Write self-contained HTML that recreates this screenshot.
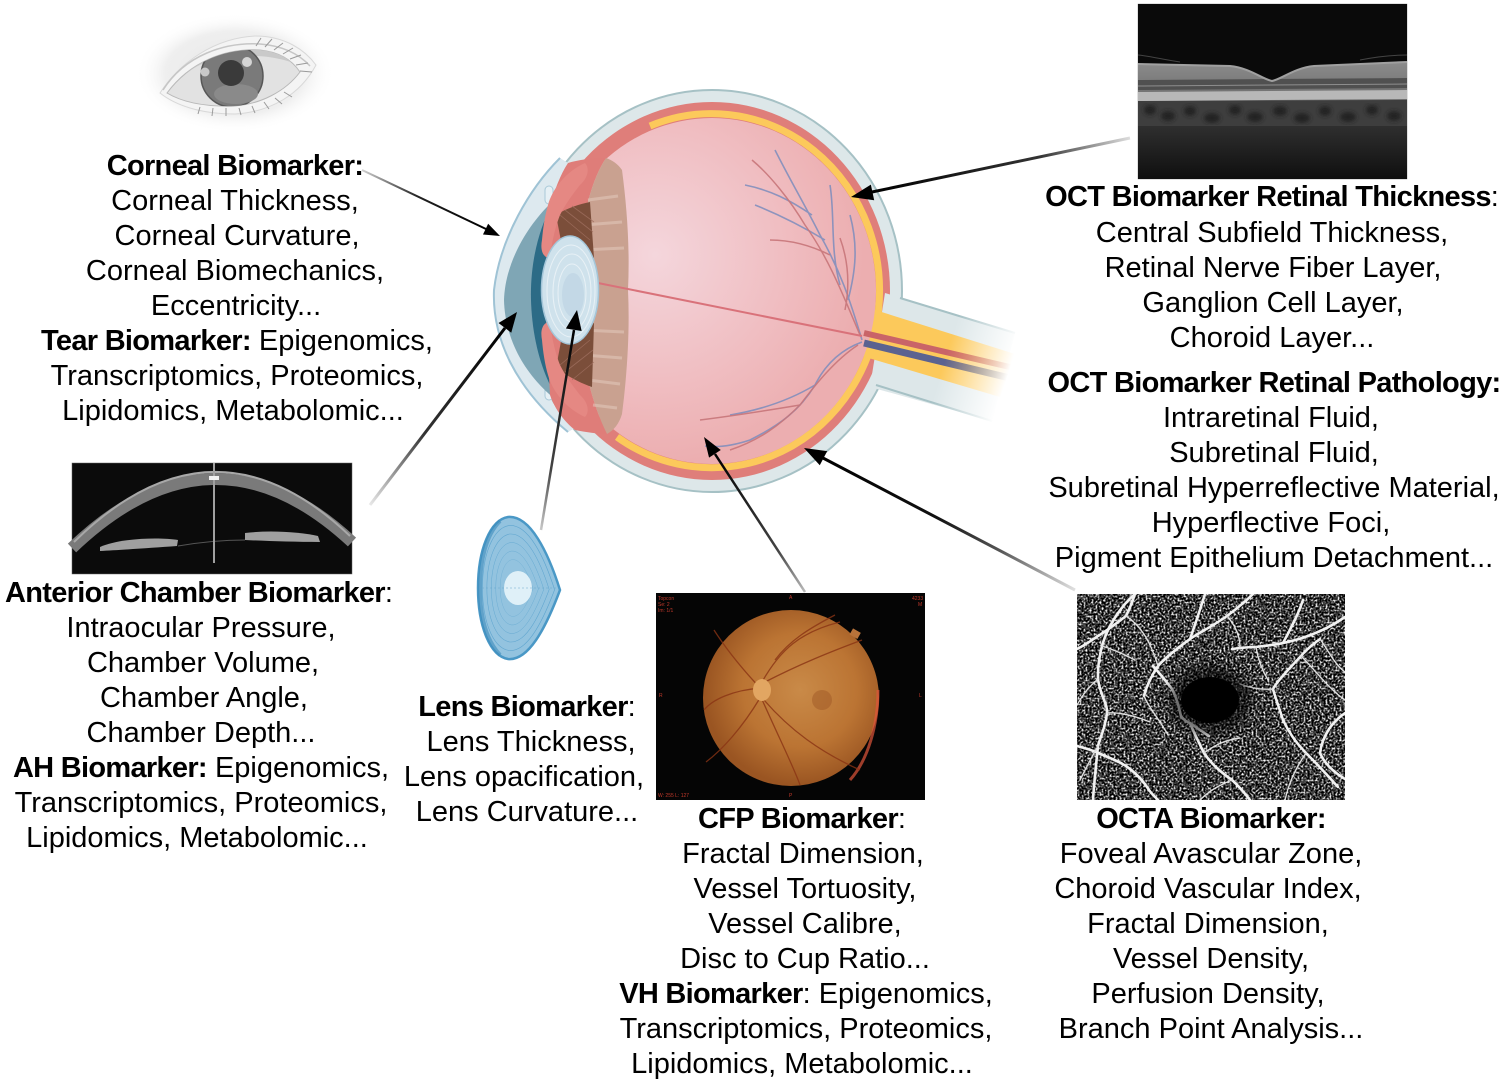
<!DOCTYPE html>
<html><head><meta charset="utf-8">
<style>
html,body{margin:0;padding:0;background:#fff;width:1505px;height:1083px;overflow:hidden}
svg{display:block}
text{font-family:"Liberation Sans",Arial,sans-serif;font-size:29px;fill:#000}
.b{font-weight:bold;letter-spacing:-0.7px}
.t{font-size:5px;fill:#c0392b}
</style></head>
<body>
<svg width="1505" height="1083" viewBox="0 0 1505 1083" xmlns="http://www.w3.org/2000/svg">
<defs>
  <radialGradient id="vit" cx="655" cy="255" r="210" gradientUnits="userSpaceOnUse">
    <stop offset="0" stop-color="#f4d6dc"/><stop offset="0.6" stop-color="#f0bec2"/><stop offset="1" stop-color="#ecaeb0"/>
  </radialGradient>
  <radialGradient id="glow" cx="0.5" cy="0.5" r="0.5">
    <stop offset="0" stop-color="#e6e6e6"/><stop offset="0.7" stop-color="#efefef"/><stop offset="1" stop-color="#ffffff" stop-opacity="0"/>
  </radialGradient>
  <radialGradient id="fund" cx="800" cy="690" r="95" gradientUnits="userSpaceOnUse">
    <stop offset="0" stop-color="#c98a48"/><stop offset="0.6" stop-color="#bb7433"/><stop offset="1" stop-color="#9a5522"/>
  </radialGradient>
  <linearGradient id="octbot" x1="0" y1="0" x2="0" y2="1">
    <stop offset="0" stop-color="#303030"/><stop offset="1" stop-color="#0f0f0f"/>
  </linearGradient>
  <linearGradient id="retg" x1="0" y1="0" x2="0" y2="1">
    <stop offset="0" stop-color="#8c8c8c"/><stop offset="1" stop-color="#6c6c6c"/>
  </linearGradient>
  <linearGradient id="nf" x1="950" y1="343" x2="1012" y2="362" gradientUnits="userSpaceOnUse">
    <stop offset="0" stop-color="#fff"/><stop offset="1" stop-color="#000"/>
  </linearGradient>
  <mask id="nm"><rect x="0" y="0" width="1505" height="1083" fill="url(#nf)"/></mask>
  <clipPath id="eyeopen"><path d="M167 93 C190 62 225 48 260 50 C280 52 292 60 300 72 C285 92 260 104 235 106 C205 107 182 102 167 93 Z"/></clipPath>
  <clipPath id="octaclip"><rect x="1077" y="594" width="268" height="206"/></clipPath>
  <clipPath id="octclip"><rect x="1138" y="4" width="269" height="175"/></clipPath>
  <filter id="noise" x="0" y="0" width="100%" height="100%" color-interpolation-filters="sRGB">
    <feTurbulence type="fractalNoise" baseFrequency="0.5" numOctaves="2" seed="4"/>
    <feColorMatrix type="matrix" values="3 0 0 0 -1.28  3 0 0 0 -1.28  3 0 0 0 -1.28  0 0 0 0 1"/>
  </filter>
  <filter id="blur4"><feGaussianBlur stdDeviation="5"/></filter>
  <filter id="blur2"><feGaussianBlur stdDeviation="2"/></filter>
  <linearGradient id="g1" x1="362" y1="170" x2="486" y2="229" gradientUnits="userSpaceOnUse"><stop offset="0" stop-color="#d0d0d0"/><stop offset="0.45" stop-color="#222"/><stop offset="1" stop-color="#000"/></linearGradient>
  <linearGradient id="g2" x1="370" y1="505" x2="505" y2="328" gradientUnits="userSpaceOnUse"><stop offset="0" stop-color="#e8e8e8"/><stop offset="0.4" stop-color="#333"/><stop offset="1" stop-color="#000"/></linearGradient>
  <linearGradient id="g3" x1="541" y1="530" x2="574" y2="330" gradientUnits="userSpaceOnUse"><stop offset="0" stop-color="#c8c8c8"/><stop offset="0.3" stop-color="#444"/><stop offset="1" stop-color="#000"/></linearGradient>
  <linearGradient id="g4" x1="1130" y1="138" x2="872" y2="192" gradientUnits="userSpaceOnUse"><stop offset="0" stop-color="#dddddd"/><stop offset="0.35" stop-color="#333"/><stop offset="1" stop-color="#000"/></linearGradient>
  <linearGradient id="g5" x1="805" y1="592" x2="715" y2="454" gradientUnits="userSpaceOnUse"><stop offset="0" stop-color="#bbbbbb"/><stop offset="0.3" stop-color="#444"/><stop offset="1" stop-color="#000"/></linearGradient>
  <linearGradient id="g6" x1="1075" y1="590" x2="823" y2="458" gradientUnits="userSpaceOnUse"><stop offset="0" stop-color="#e0e0e0"/><stop offset="0.3" stop-color="#555"/><stop offset="0.55" stop-color="#111"/><stop offset="1" stop-color="#000"/></linearGradient>
</defs>

<!-- ============ TOP-LEFT EYE ILLUSTRATION ============ -->
<ellipse cx="235" cy="73" rx="100" ry="60" fill="url(#glow)"/>
<path d="M160 93 C180 62 215 38 255 36 C285 36 305 50 316 65 C300 95 270 112 235 114 C200 114 175 105 160 93 Z" fill="#f4f4f4" stroke="#d8d8d8" stroke-width="1"/>
<path d="M163 90 C185 55 225 42 260 44 C285 46 300 55 310 66" fill="none" stroke="#c6c6c6" stroke-width="1.5"/>
<path d="M167 93 C190 62 225 48 260 50 C280 52 292 60 300 72 C285 92 260 104 235 106 C205 107 182 102 167 93 Z" fill="#e2e2e2" stroke="#b8b8b8" stroke-width="1"/>
<g clip-path="url(#eyeopen)">
  <path d="M167 93 C190 62 225 48 260 50 C280 52 292 60 300 72 L300 66 C285 58 260 54 230 56 C200 60 180 75 167 93 Z" fill="#c9c9c9"/>
  <circle cx="232" cy="76" r="31" fill="#7a7a7a" stroke="#575757" stroke-width="1.5"/>
  <ellipse cx="236" cy="94" rx="22" ry="10" fill="#8a8a8a"/>
  <circle cx="231" cy="73" r="13" fill="#3a3a3a"/>
  <circle cx="247" cy="62" r="5" fill="#d5d5d5"/>
  <circle cx="205" cy="72" r="4.5" fill="#c8c8c8"/>
</g>
<g stroke="#9a9a9a" stroke-width="1" fill="none">
  <path d="M265 47 L272 39 M274 50 L283 43 M283 54 L293 48 M290 59 L301 55 M296 65 L308 63 M300 71 L312 72 M256 46 L261 38"/>
  <path d="M200 107 L198 114 M213 108 L212 116 M226 108 L226 116 M239 108 L241 115 M252 106 L255 113 M264 102 L269 109 M275 98 L282 104 M284 92 L292 97"/>
</g>

<!-- ============ MAIN EYE CROSS-SECTION ============ -->
<ellipse cx="712" cy="291" rx="190" ry="201" fill="#dde7e9" stroke="#a6c1c5" stroke-width="2"/>
<ellipse cx="712" cy="291" rx="178" ry="189" fill="#df7e7a"/>
<g mask="url(#nm)">
  <path d="M885 293 L1015 333 L992 421 L870 387 Z" fill="#dde7e9"/>
  <path d="M900 298 L1015 333 M876 385 L992 421" stroke="#a6c1c5" stroke-width="2" fill="none"/>
  <path d="M872 309 L1015 354 L1000 397 L862 356 Z" fill="#fcc95b"/>
</g>
<ellipse cx="712" cy="291" rx="164" ry="173" fill="url(#vit)"/>
<path d="M650 126 A168 177 0 1 1 617 437" fill="none" stroke="#fcc95b" stroke-width="7"/>
<g mask="url(#nm)">
  <path d="M864 333 L1014 368" stroke="#c96468" stroke-width="6"/>
  <path d="M864 343 L1014 379" stroke="#5b6290" stroke-width="7"/>
</g>
<!-- retinal vessels -->
<g fill="none" stroke="#7d8dbd" stroke-width="1.6" opacity="0.85">
  <path d="M862 340 C850 300 840 270 820 235 C805 205 790 180 775 150"/>
  <path d="M840 285 C830 250 835 215 830 185"/>
  <path d="M825 240 C800 225 780 215 755 205"/>
  <path d="M812 215 C790 200 770 190 745 185"/>
  <path d="M848 300 C856 270 858 245 850 215"/>
  <path d="M862 342 C840 350 825 365 815 385 C800 410 780 425 750 440 C735 445 720 448 705 446"/>
  <path d="M815 385 C790 400 760 410 730 415"/>
</g>
<g fill="none" stroke="#c8767a" stroke-width="1.5" opacity="0.9">
  <path d="M860 335 C845 300 830 260 805 225 C790 200 770 175 752 160"/>
  <path d="M830 255 C810 245 790 240 770 240"/>
  <path d="M858 345 C835 360 815 385 800 405 C780 425 760 440 730 450"/>
  <path d="M800 405 C770 410 740 415 700 420"/>
  <path d="M845 310 C850 285 848 260 840 238"/>
</g>

<!-- cornea / anterior segment -->
<path d="M560 158 C530 188 500 238 494 290 C492 338 515 388 568 432 L575 428 C560 415 552 405 550 395 L545 300 L550 205 C555 190 560 175 568 163 Z" fill="#dde9ef"/>
<path d="M560 158 C530 188 500 238 494 290 C492 338 515 388 568 432" fill="none" stroke="#9fc3d5" stroke-width="2"/>
<rect x="545" y="186" width="8" height="18" rx="4" fill="#e6f0f5" stroke="#a9c9d8" stroke-width="1"/>
<rect x="545" y="382" width="8" height="18" rx="4" fill="#e6f0f5" stroke="#a9c9d8" stroke-width="1"/>
<path d="M551 203 C525 228 505 265 504 300 C505 340 525 375 556 400 L560 400 L560 203 Z" fill="#7fa6b5"/>
<path d="M552 205 C538 230 530 265 531 300 C532 335 540 370 557 398 L562 398 L562 205 Z" fill="#2c6b86"/>
<path d="M568 163 C560 175 555 190 550 205 L545 300 L550 395 C555 410 565 422 575 430 C585 432 598 434 607 434 C588 395 578 345 579 290 C578 235 588 185 606 158 C590 158 578 160 568 163 Z" fill="#df7d79"/>
<path d="M606 158 C588 185 578 235 579 290 C578 345 588 395 607 434 C614 430 619 424 622 414 C627 375 630 332 628 290 C630 248 627 208 622 170 C618 164 612 160 606 158 Z" fill="#c9a190"/>
<g stroke="#e3c9bd" stroke-width="3" opacity="0.55">
  <path d="M588 200 L618 196 M584 225 L622 222 M582 250 L624 248 M582 330 L624 332 M584 355 L622 358 M588 380 L620 384 M593 405 L617 408"/>
</g>
<path d="M598 283 L862 336" stroke="#d9727a" stroke-width="2"/>
<path d="M556 215 C567 208 580 204 590 202 L594 258 C584 252 572 248 562 246 Z" fill="#7b4e3a"/>
<path d="M556 368 C567 376 580 383 592 387 L594 323 C584 328 572 332 562 336 Z" fill="#7b4e3a"/>
<g stroke="#a07060" stroke-width="0.8" opacity="0.8">
  <path d="M560 215 L590 240 M565 210 L593 232 M572 206 L594 222 M560 365 L590 340 M565 372 L593 350 M572 380 L594 362"/>
</g>
<path d="M548 205 C552 190 565 172 585 163 C590 168 588 178 580 185 C572 195 565 205 560 215 C556 225 552 240 550 258 C543 258 540 250 542 240 C543 228 545 215 548 205 Z" fill="#e58883"/>
<path d="M548 375 C552 390 565 408 585 417 C590 412 588 402 580 395 C572 385 565 375 560 365 C556 355 552 340 550 322 C543 322 540 330 542 340 C543 352 545 365 548 375 Z" fill="#e58883"/>
<ellipse cx="570" cy="290" rx="28.5" ry="54" fill="#cfe2ec" stroke="#a4c6d9" stroke-width="1.5"/>
<g fill="none" stroke="#e8f1f6" stroke-width="1">
  <ellipse cx="571" cy="291" rx="24" ry="46"/><ellipse cx="572" cy="292" rx="19" ry="38"/><ellipse cx="572" cy="293" rx="14" ry="29"/>
</g>
<ellipse cx="573" cy="295" rx="11" ry="22" fill="#c3d8e6"/>

<!-- ============ OCT IMAGE ============ -->
<rect x="1138" y="4" width="269" height="175" fill="#0a0a0a" stroke="#888" stroke-width="0.5"/>
<g clip-path="url(#octclip)">
<rect x="1138" y="124" width="269" height="55" fill="url(#octbot)"/>
<rect x="1138" y="100" width="269" height="26" fill="#3e3e3e"/>
<g fill="#222" filter="url(#blur2)">
  <ellipse cx="1150" cy="110" rx="6" ry="5"/><ellipse cx="1168" cy="116" rx="7" ry="5"/><ellipse cx="1190" cy="111" rx="6" ry="5"/><ellipse cx="1212" cy="118" rx="8" ry="5"/><ellipse cx="1235" cy="110" rx="6" ry="5"/><ellipse cx="1255" cy="117" rx="8" ry="5"/><ellipse cx="1280" cy="111" rx="7" ry="5"/><ellipse cx="1302" cy="118" rx="8" ry="5"/><ellipse cx="1325" cy="111" rx="6" ry="5"/><ellipse cx="1348" cy="117" rx="8" ry="5"/><ellipse cx="1372" cy="110" rx="6" ry="5"/><ellipse cx="1394" cy="116" rx="7" ry="5"/>
</g>
<path d="M1138 64 L1230 66 C1250 68 1262 79 1272 81 C1282 79 1294 68 1314 66 L1407 62 L1407 100 L1138 101 Z" fill="url(#retg)"/>
<path d="M1138 80 L1407 78 L1407 88 L1138 90 Z" fill="#505050"/>
<path d="M1138 4 L1407 4 L1407 62 L1314 66 C1294 68 1282 79 1272 81 C1262 79 1250 68 1230 66 L1138 64 Z" fill="#0a0a0a"/>
<path d="M1138 64 L1230 66 C1250 68 1262 79 1272 81 C1282 79 1294 68 1314 66 L1407 62" fill="none" stroke="#a0a0a0" stroke-width="2"/>
<path d="M1138 92 L1407 90 L1407 99 L1138 101 Z" fill="#b8b8b8"/>
<path d="M1138 86 L1407 84" stroke="#8e8e8e" stroke-width="1"/>
<path d="M1138 55 C1150 56 1165 60 1180 62 M1360 60 C1375 57 1390 55 1407 55" stroke="#444" stroke-width="1" fill="none"/>
</g>

<!-- ============ ANTERIOR CHAMBER OCT ============ -->
<rect x="72" y="463" width="280" height="111" fill="#0b0b0b" stroke="#666" stroke-width="0.5"/>
<path d="M72 548 Q213 413 352 542" fill="none" stroke="#7a7a7a" stroke-width="12"/>
<path d="M74 542 Q213 405 350 536" fill="none" stroke="#a8a8a8" stroke-width="2"/>
<path d="M100 547 C120 538 160 537 178 540 L177 546 C150 548 120 550 100 551 Z" fill="#a0a0a0"/>
<path d="M245 533 C270 530 300 532 318 536 L320 542 C295 542 265 541 245 540 Z" fill="#a0a0a0"/>
<path d="M178 546 Q213 540 245 540" stroke="#555" stroke-width="1" fill="none"/>
<rect x="213" y="463" width="2" height="100" fill="#a0a0a0"/>
<rect x="209" y="476" width="10" height="4" fill="#f0f0f0"/>

<!-- ============ LENS ILLUSTRATION ============ -->
<path d="M508 517 C490 520 478 550 478 588 C478 626 490 656 508 659 C528 661 545 630 560 590 C548 552 530 515 508 517 Z" fill="#93c3df" stroke="#4a98c6" stroke-width="2.5"/>
<g fill="none" stroke="#5fa5cf" stroke-width="0.7">
  <path transform="translate(515 588) scale(0.88) translate(-515 -588)" d="M508 517 C490 520 478 550 478 588 C478 626 490 656 508 659 C528 661 545 630 560 590 C548 552 530 515 508 517 Z"/>
  <path transform="translate(515 588) scale(0.76) translate(-515 -588)" d="M508 517 C490 520 478 550 478 588 C478 626 490 656 508 659 C528 661 545 630 560 590 C548 552 530 515 508 517 Z"/>
  <path transform="translate(515 588) scale(0.64) translate(-515 -588)" d="M508 517 C490 520 478 550 478 588 C478 626 490 656 508 659 C528 661 545 630 560 590 C548 552 530 515 508 517 Z"/>
  <path transform="translate(515 588) scale(0.52) translate(-515 -588)" d="M508 517 C490 520 478 550 478 588 C478 626 490 656 508 659 C528 661 545 630 560 590 C548 552 530 515 508 517 Z"/>
  <path transform="translate(515 588) scale(0.40) translate(-515 -588)" d="M508 517 C490 520 478 550 478 588 C478 626 490 656 508 659 C528 661 545 630 560 590 C548 552 530 515 508 517 Z"/>
</g>
<path d="M500 521 C486 535 480 560 480 588 C480 616 486 640 500 655" fill="none" stroke="#3d8cbd" stroke-width="4" opacity="0.6"/>
<ellipse cx="518" cy="588" rx="14" ry="17" fill="#dff0f8"/>
<path d="M482 588 L558 588" stroke="#6aa8cc" stroke-width="0.6" stroke-dasharray="2 2"/>

<!-- ============ FUNDUS (CFP) ============ -->
<rect x="656" y="593" width="269" height="207" fill="#050505"/>
<circle cx="791" cy="698" r="88" fill="url(#fund)"/>
<path d="M878 690 C878 725 868 760 850 780" fill="none" stroke="#e0553a" stroke-width="3" opacity="0.7"/>
<rect x="851" y="630" width="9" height="7" fill="#b8733a" transform="rotate(30 855 633)"/>
<circle cx="822" cy="700" r="10" fill="#9b5523" opacity="0.45"/>
<g fill="none" stroke="#8a3414" stroke-width="1.3" opacity="0.8">
  <path d="M762 690 C745 672 728 652 714 630"/>
  <path d="M762 682 C780 650 800 632 840 622"/>
  <path d="M765 682 C800 664 830 652 862 640"/>
  <path d="M764 700 C790 730 820 752 860 770"/>
  <path d="M760 698 C742 728 722 750 706 762"/>
  <path d="M762 688 C732 690 712 700 704 710"/>
  <path d="M760 695 C780 740 795 770 800 785"/>
  <path d="M775 660 C790 640 810 628 835 615"/>
</g>
<ellipse cx="762" cy="690" rx="9" ry="11" fill="#e2a662"/>
<text class="t" x="658" y="600">Topcon</text>
<text class="t" x="658" y="606">Se: 2</text>
<text class="t" x="658" y="612">Im: 1/1</text>
<text class="t" x="912" y="600">4233</text>
<text class="t" x="918" y="606">M</text>
<text class="t" x="789" y="599">A</text>
<text class="t" x="659" y="697">R</text>
<text class="t" x="919" y="697">L</text>
<text class="t" x="789" y="797">P</text>
<text class="t" x="658" y="797">W: 255 L: 127</text>

<!-- ============ OCTA ============ -->
<rect x="1077" y="594" width="268" height="206" fill="#000"/>
<g clip-path="url(#octaclip)">
  <rect x="1077" y="594" width="268" height="206" filter="url(#noise)"/>
  <g fill="none" stroke="#f2f2f2" stroke-width="2.6" stroke-linecap="round" stroke-linejoin="round">
    <path d="M1135 594 C1122 605 1108 625 1102 646 C1097 665 1098 679 1098 679 C1100 695 1108 705 1107 713 C1105 730 1099 740 1098 746 C1096 765 1094 785 1093 800"/>
    <path d="M1253 594 C1242 605 1232 612 1227 616 C1210 628 1200 632 1190 639 C1175 650 1165 658 1158 666 C1150 678 1146 688 1144 696"/>
    <path d="M1320 639 C1312 645 1306 650 1301 656 C1290 668 1278 680 1273 689 C1276 700 1280 710 1283 720 C1290 735 1298 745 1306 753 C1318 765 1330 778 1338 787"/>
    <path d="M1232 649 C1240 648 1248 647 1256 647 C1265 646 1274 645 1283 643 C1292 641 1300 639 1305 637 C1320 632 1335 624 1345 617"/>
    <path d="M1190 723 C1195 735 1200 745 1204 753 C1212 765 1222 773 1232 780 C1240 787 1246 795 1250 800"/>
    <path d="M1077 746 C1085 748 1092 750 1098 753 C1108 757 1118 761 1126 766 C1136 773 1144 782 1149 790 C1152 794 1155 797 1158 800"/>
    <path d="M1077 649 C1085 645 1092 640 1098 636 C1108 630 1118 622 1126 616 C1130 608 1133 600 1135 594"/>
    <path d="M1345 713 C1338 718 1333 723 1329 729 C1324 737 1321 745 1320 753 C1325 765 1335 773 1345 779"/>
    <path d="M1153 666 C1160 674 1167 682 1172 689 C1177 698 1179 708 1181 716 C1184 720 1187 722 1190 723 C1197 728 1203 732 1209 736"/>
    <path d="M1190 639 C1195 625 1200 610 1205 594"/>
    <path d="M1283 643 C1290 630 1298 615 1303 600"/>
  </g>
  <g fill="none" stroke="#e0e0e0" stroke-width="1.4" stroke-linecap="round">
    <path d="M1102 646 C1115 650 1125 655 1135 660 M1107 713 C1120 712 1135 716 1150 722 M1227 616 C1235 625 1240 635 1240 648 M1306 753 C1298 765 1290 778 1285 800 M1144 696 C1150 710 1160 720 1168 735 M1273 689 C1260 690 1250 688 1240 684 M1232 780 C1220 785 1210 790 1200 800 M1098 746 C1090 760 1085 770 1080 780 M1320 639 C1328 650 1335 665 1345 672 M1256 647 C1258 660 1262 670 1268 680 M1126 616 C1140 625 1150 640 1158 666 M1301 656 C1315 670 1330 690 1345 700 M1204 753 C1215 745 1225 740 1240 738 M1098 679 C1085 690 1080 700 1077 705"/>
  </g>
  <ellipse cx="1210" cy="700" rx="42" ry="35" fill="#000" opacity="0.55" filter="url(#blur4)"/>
  <ellipse cx="1210" cy="700" rx="29" ry="23" fill="#000"/>
</g>

<!-- ============ ARROWS ============ -->
<line x1="362" y1="170" x2="486" y2="229" stroke="url(#g1)" stroke-width="2"/>
<polygon points="500,236 482.98,234.51 488.16,223.69" fill="#000"/>
<line x1="370" y1="505" x2="505" y2="328" stroke="url(#g2)" stroke-width="3"/>
<polygon points="517,312 511.24,332.76 498.52,323.06" fill="#000"/>
<line x1="541" y1="530" x2="574" y2="330" stroke="url(#g3)" stroke-width="2.5"/>
<polygon points="577,310 581.67,331.03 565.87,328.45" fill="#000"/>
<line x1="1130" y1="138" x2="872" y2="192" stroke="url(#g4)" stroke-width="3"/>
<polygon points="851,197 870.86,184.62 874.18,200.28" fill="#000"/>
<line x1="805" y1="592" x2="715" y2="454" stroke="url(#g5)" stroke-width="2.5"/>
<polygon points="704,437 720.78,449.94 709.06,457.58" fill="#000"/>
<line x1="1075" y1="590" x2="823" y2="458" stroke="url(#g6)" stroke-width="3"/>
<polygon points="804,448 827.20,451.12 819.78,465.30" fill="#000"/>

<!-- ============ TEXT ============ -->
<g text-anchor="middle">
  <text x="235" y="175"><tspan class="b">Corneal Biomarker:</tspan></text>
  <text x="235" y="210">Corneal Thickness,</text>
  <text x="237" y="245">Corneal Curvature,</text>
  <text x="235" y="280">Corneal Biomechanics,</text>
  <text x="236" y="315">Eccentricity...</text>
  <text x="237" y="350"><tspan class="b">Tear Biomarker:</tspan> Epigenomics,</text>
  <text x="237" y="385">Transcriptomics, Proteomics,</text>
  <text x="233" y="420">Lipidomics, Metabolomic...</text>

  <text x="199" y="602"><tspan class="b">Anterior Chamber Biomarker</tspan>:</text>
  <text x="201" y="637">Intraocular Pressure,</text>
  <text x="203" y="672">Chamber Volume,</text>
  <text x="204" y="707">Chamber Angle,</text>
  <text x="201" y="742">Chamber Depth...</text>
  <text x="201" y="777"><tspan class="b">AH Biomarker:</tspan> Epigenomics,</text>
  <text x="201" y="812">Transcriptomics, Proteomics,</text>
  <text x="197" y="847">Lipidomics, Metabolomic...</text>

  <text x="527" y="716"><tspan class="b">Lens Biomarker</tspan>:</text>
  <text x="531" y="751">Lens Thickness,</text>
  <text x="524" y="786">Lens opacification,</text>
  <text x="527" y="821">Lens Curvature...</text>

  <text x="802" y="828"><tspan class="b">CFP Biomarker</tspan>:</text>
  <text x="803" y="863">Fractal Dimension,</text>
  <text x="805" y="898">Vessel Tortuosity,</text>
  <text x="805" y="933">Vessel Calibre,</text>
  <text x="805" y="968">Disc to Cup Ratio...</text>
  <text x="806" y="1003"><tspan class="b">VH Biomarker</tspan>: Epigenomics,</text>
  <text x="806" y="1038">Transcriptomics, Proteomics,</text>
  <text x="802" y="1073">Lipidomics, Metabolomic...</text>

  <text x="1211" y="828"><tspan class="b">OCTA Biomarker:</tspan></text>
  <text x="1211" y="863">Foveal Avascular Zone,</text>
  <text x="1208" y="898">Choroid Vascular Index,</text>
  <text x="1208" y="933">Fractal Dimension,</text>
  <text x="1211" y="968">Vessel Density,</text>
  <text x="1208" y="1003">Perfusion Density,</text>
  <text x="1211" y="1038">Branch Point Analysis...</text>

  <text x="1272" y="206"><tspan class="b">OCT Biomarker Retinal Thickness</tspan>:</text>
  <text x="1272" y="242">Central Subfield Thickness,</text>
  <text x="1273" y="277">Retinal Nerve Fiber Layer,</text>
  <text x="1273" y="312">Ganglion Cell Layer,</text>
  <text x="1272" y="347">Choroid Layer...</text>
  <text x="1274" y="392"><tspan class="b">OCT Biomarker Retinal Pathology:</tspan></text>
  <text x="1271" y="427">Intraretinal Fluid,</text>
  <text x="1274" y="462">Subretinal Fluid,</text>
  <text x="1274" y="497">Subretinal Hyperreflective Material,</text>
  <text x="1271" y="532">Hyperflective Foci,</text>
  <text x="1274" y="567">Pigment Epithelium Detachment...</text>
</g>
</svg>
</body></html>
